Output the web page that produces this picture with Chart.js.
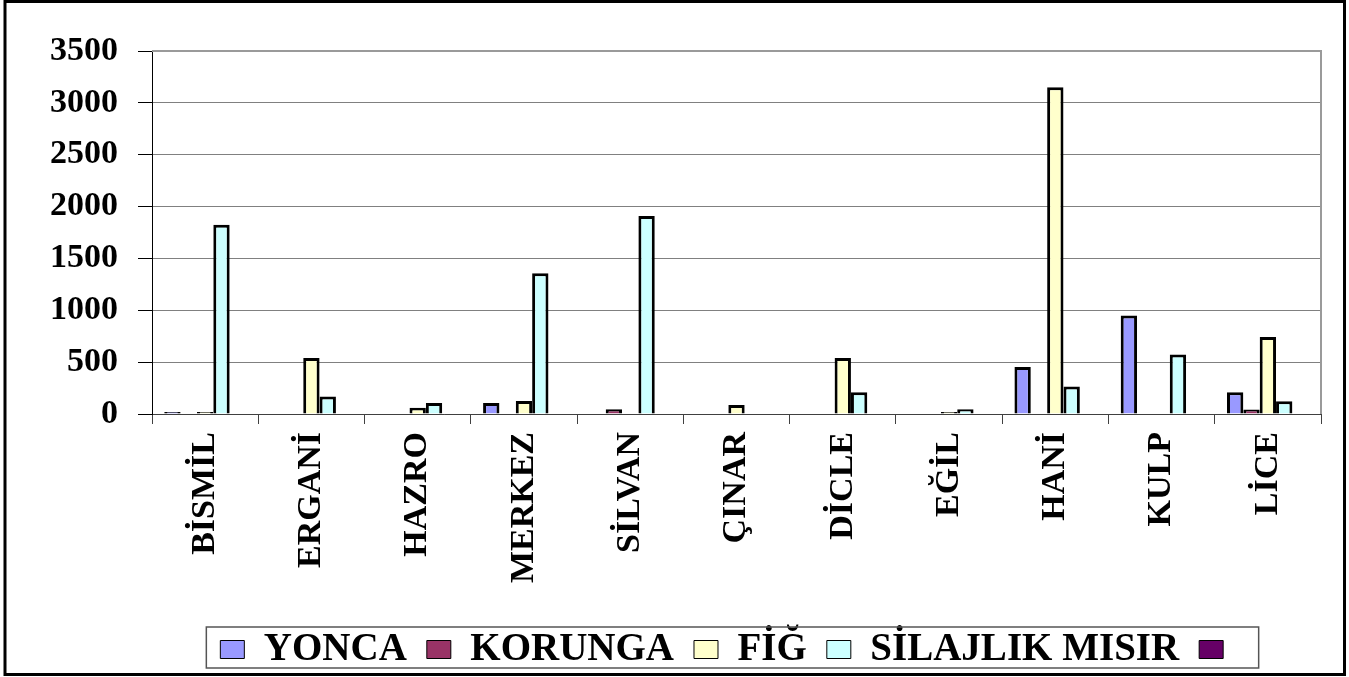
<!DOCTYPE html>
<html>
<head>
<meta charset="utf-8">
<script src="https://cdn.jsdelivr.net/npm/chart.js@4.4.1/dist/chart.umd.min.js"></script>
<style>
  html, body { margin: 0; padding: 0; background: #fff; }
  canvas { display: block; }
</style>
</head>
<body>
<canvas id="myChart" width="1349" height="677"></canvas>
<script>
// İlçeler (X ekseni)
const districts = ['BİSMİL', 'ERGANİ', 'HAZRO', 'MERKEZ', 'SİLVAN', 'ÇINAR', 'DİCLE', 'EĞİL', 'HANİ', 'KULP', 'LİCE'];

// Seriler
const yonca    = [20, 0, 0, 107, 0, 0, 0, 0, 452, 950, 210];
const korunga  = [0, 0, 0, 0, 45, 0, 0, 0, 0, 0, 43];
const fig      = [20, 540, 61, 126, 0, 87, 540, 20, 3150, 0, 742];
const silajlik = [1825, 168, 107, 1357, 1910, 0, 210, 45, 265, 574, 123];
const bos      = [0, 0, 0, 0, 0, 0, 0, 0, 0, 0, 0];

// Y ekseni
const yMin = 0;
const yMax = 3500;
const yStep = 500;

const serif = "'Liberation Serif', 'Times New Roman', serif";

// Lejantı biraz sağa ve aşağı kaydır, çerçeveleri çiz
const LEGEND_DX = 71;
const LEGEND_DY = 2;

const framePlugin = {
    id: 'frames',
    afterUpdate(chart) {
        const lg = chart.legend;
        lg.left += LEGEND_DX; lg.right += LEGEND_DX;
        lg.top += LEGEND_DY; lg.bottom += LEGEND_DY;
        (lg.legendHitBoxes || []).forEach(b => { b.left += LEGEND_DX; b.top += LEGEND_DY; });
    },
    beforeDatasetsDraw(chart) {
        const a = chart.chartArea;
        const ctx = chart.ctx;
        ctx.save();
        ctx.strokeStyle = '#9a9a9a';
        ctx.lineWidth = 2;
        ctx.beginPath();
        ctx.moveTo(a.left, a.top);
        ctx.lineTo(a.right, a.top);
        ctx.lineTo(a.right, a.bottom);
        ctx.stroke();
        ctx.restore();
    },
    afterDraw(chart) {
        const ctx = chart.ctx;
        const boxes = chart.legend.legendHitBoxes;
        ctx.save();
        if (boxes && boxes.length) {
            let l = Infinity, r = -Infinity;
            boxes.forEach(b => { l = Math.min(l, b.left); r = Math.max(r, b.left + b.width); });
            ctx.strokeStyle = '#555';
            ctx.lineWidth = 1.5;
            ctx.strokeRect(l - 14, 627, r - l + 30, 41);
        }
        ctx.strokeStyle = '#000';
        ctx.lineWidth = 3;
        ctx.strokeRect(5, 1.5, 1339.5, 673);
        ctx.restore();
    }
};

function makeSet(label, data, color) {
    return {
        label: label,
        data: data,
        backgroundColor: color,
        borderColor: '#000',
        borderWidth: 3,
        categoryPercentage: 5 / 6.5,
        barPercentage: 1
    };
}

const ctx = document.getElementById('myChart').getContext('2d');
const chart = new Chart(ctx, {
    type: 'bar',
    data: {
        labels: districts,
        datasets: [
            makeSet('YONCA', yonca, '#9999ff'),
            makeSet('KORUNGA', korunga, '#993366'),
            makeSet('FİĞ', fig, '#ffffcc'),
            makeSet('SİLAJLIK MISIR', silajlik, '#ccffff'),
            makeSet('', bos, '#660066')
        ]
    },
    options: {
        responsive: false,
        animation: false,
        devicePixelRatio: 1,
        layout: { padding: { left: 0, right: 28, top: 51, bottom: 0 } },
        scales: {
            x: {
                ticks: {
                    color: '#000',
                    font: { family: serif, size: 34, weight: 'bold' },
                    minRotation: 90,
                    maxRotation: 90,
                    autoSkip: false,
                    padding: 8
                },
                grid: { drawOnChartArea: false, color: '#404040', tickLength: 10, offset: true },
                border: { color: '#404040', width: 1 },
                afterFit: s => { s.height = 194; }
            },
            y: {
                min: yMin,
                max: yMax,
                ticks: {
                    stepSize: yStep,
                    color: '#000',
                    font: { family: serif, size: 34, weight: 'bold' },
                    padding: 20,
                    callback: v => String(v)
                },
                grid: { color: '#808080', tickColor: '#000', tickLength: 14, lineWidth: 1 },
                border: { color: '#000', width: 1 },
                afterFit: s => { s.width = 152; }
            }
        },
        plugins: {
            legend: {
                position: 'bottom',
                labels: {
                    color: '#000',
                    font: { family: serif, size: 39, weight: 'bold' },
                    boxWidth: 24,
                    boxHeight: 18,
                    padding: 20,
                    generateLabels(c) {
                        const items = Chart.defaults.plugins.legend.labels.generateLabels(c);
                        items.forEach(i => { i.lineWidth = 1; });
                        return items;
                    }
                }
            },
            tooltip: { enabled: false }
        }
    },
    plugins: [framePlugin]
});
</script>
</body>
</html>
